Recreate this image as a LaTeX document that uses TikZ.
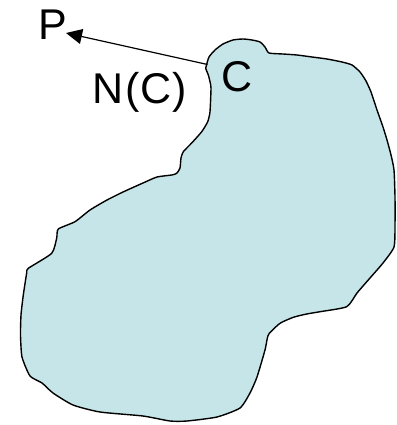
\documentclass[tikz,border=0pt]{standalone}
\usepackage{fontspec}
\setmainfont{Liberation Sans}
\usetikzlibrary{arrows.meta}
\definecolor{blobfill}{RGB}{198,229,232}
\tikzset{
  lbl/.style={font=\fontsize{43}{50}\selectfont, inner sep=0pt, anchor=base},
  blob/.style={draw=black, line width=1.4pt, fill=blobfill, line join=round},
  normal/.style={line width=1.2pt, -{Triangle[length=16pt,width=15pt]}}
}
\begin{document}
\begin{tikzpicture}[x=1pt,y=-1pt]
\useasboundingbox (0,0) rectangle (396,425);
\draw[blob] plot[smooth cycle, tension=0.35] coordinates {
(206.5,65) (209,57) (215,50) (223,44) (233,40) (243,39) (252,40) (260,42) (265,47) (269,53)
(283,54) (297,55) (312,57) (327,59) (342,62) (352,65) (360,72) (366,81) (371,92)
(377,110) (383,127) (387,140) (391,155) (394,170) (395,197) (395,225) (394,247)
(383,263) (370,278) (357,293) (346.7,306.7) (320,311.7) (306.7,314) (293.3,317.3)
(280,323.3) (269.3,333.3) (267.3,338.3) (265,350) (257,377) (250,393) (240,408)
(217,417) (187,421) (170,421) (143,416) (100,412) (73,405) (53,393) (42,383) (30,376)
(22,357) (20.5,335) (21,315) (23.3,295) (26.7,273) (28.3,268.3) (51.7,253.3)
(56.7,238) (58.3,229) (75,221.7) (90,210) (107,200) (123,192) (143,183) (157,177)
(171.7,175) (176.7,173.3) (180,168) (181,158) (183.3,151.7) (191.7,143) (201.7,131.7)
(207.7,121.7) (210,111.7) (211,88) (210,81.7) (208.3,75) (205.7,68.3)
};
\node[lbl] (P) at (53,39.5) {P};
\node[lbl] (NC) at (140,103) {N\kern1.2pt(\kern1.2pt C\kern1.2pt)};
\node[lbl] (C) at (237,92) {C};
\coordinate (cpt) at (207.5,64.5);
\coordinate (ptip) at (66,33);
\draw[normal] (cpt) -- (ptip);
\end{tikzpicture}
\end{document}
